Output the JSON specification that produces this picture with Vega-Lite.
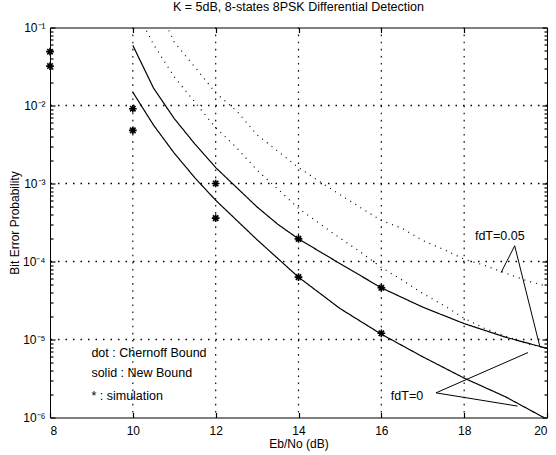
{
  "$schema": "https://vega.github.io/schema/vega-lite/v6.json",
  "width": 497,
  "height": 390,
  "autosize": {"type": "none"},
  "padding": {"left": 50, "top": 27.5, "right": 9, "bottom": 37.5},
  "background": "white",
  "config": {
    "view": {"stroke": "black", "strokeWidth": 1},
    "font": "Liberation Sans",
    "axis": {"labelColor": "black", "titleColor": "black", "tickColor": "black", "tickWidth": 1.2, "tickOpacity": 1, "domain": false, "grid": false, "labelFont": "Liberation Sans", "titleFont": "Liberation Sans"}
  },
  "title": {"text": "K = 5dB, 8-states 8PSK Differential Detection", "fontSize": 12.5, "fontWeight": "normal", "offset": 8, "anchor": "middle", "color": "black", "font": "Liberation Sans"},
  "datasets": {
    "curves": [
      {"series": "new005", "style": "solid", "x": 10, "y": 0.059},
      {"series": "new005", "style": "solid", "x": 10.5, "y": 0.0167},
      {"series": "new005", "style": "solid", "x": 11, "y": 0.0068},
      {"series": "new005", "style": "solid", "x": 11.5, "y": 0.0032},
      {"series": "new005", "style": "solid", "x": 12, "y": 0.0016},
      {"series": "new005", "style": "solid", "x": 13, "y": 0.0005},
      {"series": "new005", "style": "solid", "x": 13.5, "y": 0.0003},
      {"series": "new005", "style": "solid", "x": 14, "y": 0.000195},
      {"series": "new005", "style": "solid", "x": 15, "y": 0.000094},
      {"series": "new005", "style": "solid", "x": 16, "y": 0.000046},
      {"series": "new005", "style": "solid", "x": 17, "y": 0.000026},
      {"series": "new005", "style": "solid", "x": 18, "y": 0.000016},
      {"series": "new005", "style": "solid", "x": 19, "y": 0.0000107},
      {"series": "new005", "style": "solid", "x": 20, "y": 0.0000077},
      {"series": "new0", "style": "solid", "x": 10, "y": 0.0148},
      {"series": "new0", "style": "solid", "x": 10.5, "y": 0.0056},
      {"series": "new0", "style": "solid", "x": 11, "y": 0.00245},
      {"series": "new0", "style": "solid", "x": 11.5, "y": 0.00118},
      {"series": "new0", "style": "solid", "x": 12, "y": 0.00061},
      {"series": "new0", "style": "solid", "x": 13, "y": 0.00019},
      {"series": "new0", "style": "solid", "x": 14, "y": 0.000063},
      {"series": "new0", "style": "solid", "x": 15, "y": 0.000025},
      {"series": "new0", "style": "solid", "x": 16, "y": 0.0000117},
      {"series": "new0", "style": "solid", "x": 17, "y": 0.000006},
      {"series": "new0", "style": "solid", "x": 18, "y": 0.0000032},
      {"series": "new0", "style": "solid", "x": 19, "y": 0.00000184},
      {"series": "new0", "style": "solid", "x": 20, "y": 0.00000095},
      {"series": "ch0", "style": "dot", "x": 10, "y": 0.2},
      {"series": "ch0", "style": "dot", "x": 10.5, "y": 0.0605},
      {"series": "ch0", "style": "dot", "x": 11, "y": 0.0233},
      {"series": "ch0", "style": "dot", "x": 11.5, "y": 0.011},
      {"series": "ch0", "style": "dot", "x": 12, "y": 0.0052},
      {"series": "ch0", "style": "dot", "x": 12.5, "y": 0.0029},
      {"series": "ch0", "style": "dot", "x": 13, "y": 0.00148},
      {"series": "ch0", "style": "dot", "x": 13.5, "y": 0.00085},
      {"series": "ch0", "style": "dot", "x": 14, "y": 0.00048},
      {"series": "ch0", "style": "dot", "x": 14.5, "y": 0.00031},
      {"series": "ch0", "style": "dot", "x": 15, "y": 0.0002},
      {"series": "ch0", "style": "dot", "x": 15.5, "y": 0.000132},
      {"series": "ch0", "style": "dot", "x": 16, "y": 0.000084},
      {"series": "ch0", "style": "dot", "x": 16.5, "y": 0.000058},
      {"series": "ch0", "style": "dot", "x": 17, "y": 0.000039},
      {"series": "ch0", "style": "dot", "x": 17.5, "y": 0.0000275},
      {"series": "ch0", "style": "dot", "x": 18, "y": 0.0000187},
      {"series": "ch0", "style": "dot", "x": 18.5, "y": 0.0000138},
      {"series": "ch0", "style": "dot", "x": 19, "y": 0.0000111},
      {"series": "ch0", "style": "dot", "x": 19.5, "y": 0.0000089},
      {"series": "ch0", "style": "dot", "x": 20, "y": 0.0000077},
      {"series": "ch005", "style": "dot", "x": 10.5, "y": 0.24},
      {"series": "ch005", "style": "dot", "x": 11, "y": 0.065},
      {"series": "ch005", "style": "dot", "x": 11.5, "y": 0.031},
      {"series": "ch005", "style": "dot", "x": 12, "y": 0.0145},
      {"series": "ch005", "style": "dot", "x": 12.5, "y": 0.0086},
      {"series": "ch005", "style": "dot", "x": 13, "y": 0.0042},
      {"series": "ch005", "style": "dot", "x": 13.5, "y": 0.0026},
      {"series": "ch005", "style": "dot", "x": 14, "y": 0.0016},
      {"series": "ch005", "style": "dot", "x": 14.5, "y": 0.00107},
      {"series": "ch005", "style": "dot", "x": 15, "y": 0.00072},
      {"series": "ch005", "style": "dot", "x": 15.5, "y": 0.00049},
      {"series": "ch005", "style": "dot", "x": 16, "y": 0.000335},
      {"series": "ch005", "style": "dot", "x": 16.5, "y": 0.000267},
      {"series": "ch005", "style": "dot", "x": 17, "y": 0.000186},
      {"series": "ch005", "style": "dot", "x": 17.5, "y": 0.000143},
      {"series": "ch005", "style": "dot", "x": 18, "y": 0.000107},
      {"series": "ch005", "style": "dot", "x": 18.5, "y": 0.000089},
      {"series": "ch005", "style": "dot", "x": 19, "y": 0.000071},
      {"series": "ch005", "style": "dot", "x": 19.5, "y": 0.000057},
      {"series": "ch005", "style": "dot", "x": 20, "y": 0.000048}
    ],
    "stars": [
      {"x": 8, "y": 0.049}, {"x": 8, "y": 0.032},
      {"x": 10, "y": 0.0091}, {"x": 10, "y": 0.0048},
      {"x": 12, "y": 0.001}, {"x": 12, "y": 0.00036},
      {"x": 14, "y": 0.000195}, {"x": 14, "y": 0.000063},
      {"x": 16, "y": 0.000046}, {"x": 16, "y": 0.000012}
    ],
    "pointers": [
      {"group": "a", "ord": 1, "x": 18.89, "y": 0.000072},
      {"group": "a", "ord": 2, "x": 19.22, "y": 0.000159},
      {"group": "a", "ord": 3, "x": 19.83, "y": 0.000008},
      {"group": "b", "ord": 1, "x": 19.54, "y": 0.0000068},
      {"group": "b", "ord": 2, "x": 17.32, "y": 0.00000207},
      {"group": "b", "ord": 3, "x": 19.29, "y": 0.0000014}
    ],
    "notes": [
      {"x": 18.26, "y": 0.000214, "label": "fdT=0.05"},
      {"x": 16.23, "y": 0.00000187, "label": "fdT=0"},
      {"x": 9.0, "y": 0.0000067, "label": "dot : Chernoff Bound"},
      {"x": 9.0, "y": 0.0000037, "label": "solid : New Bound"},
      {"x": 9.0, "y": 0.0000019, "label": "* : simulation"}
    ],
    "gridx": [{"x": 10}, {"x": 12}, {"x": 14}, {"x": 16}, {"x": 18}],
    "gridy": [{"y": 0.00001}, {"y": 0.0001}, {"y": 0.001}, {"y": 0.01}]
  },
  "layer": [
    {
      "data": {"name": "gridx"},
      "mark": {"type": "rule", "strokeDash": [1.6, 5.5], "strokeWidth": 1.2, "color": "#111111", "opacity": 1},
      "encoding": {
        "x": {"field": "x", "type": "quantitative", "scale": {"domain": [8, 20], "nice": false, "zero": false}, "axis": null}
      }
    },
    {
      "data": {"name": "gridy"},
      "mark": {"type": "rule", "strokeDash": [1.5, 6], "strokeWidth": 1.3, "color": "black", "opacity": 1},
      "encoding": {
        "y": {"field": "y", "type": "quantitative", "scale": {"type": "log", "domain": [0.000001, 0.1], "nice": false},
          "axis": {"orient": "right", "offset": -3, "tickSize": 3, "labels": false, "title": null,
            "values": [0.000002, 0.000003, 0.000004, 0.000005, 0.000006, 0.000007, 0.000008, 0.000009,
                       0.00002, 0.00003, 0.00004, 0.00005, 0.00006, 0.00007, 0.00008, 0.00009,
                       0.0002, 0.0003, 0.0004, 0.0005, 0.0006, 0.0007, 0.0008, 0.0009,
                       0.002, 0.003, 0.004, 0.005, 0.006, 0.007, 0.008, 0.009,
                       0.02, 0.03, 0.04, 0.05, 0.06, 0.07, 0.08, 0.09]}}
      }
    },
    {
      "data": {"name": "curves"},
      "mark": {"type": "line", "clip": true, "strokeWidth": 1.2, "color": "black"},
      "encoding": {
        "x": {"field": "x", "type": "quantitative",
          "axis": {"orient": "bottom", "values": [8, 10, 12, 14, 16, 18, 20], "ticks": false, "tickSize": 0, "labelFontSize": 12, "labelPadding": 8, "title": "Eb/No (dB)", "titleFontSize": 12, "titleFontWeight": "normal", "titlePadding": 2}},
        "y": {"field": "y", "type": "quantitative",
          "axis": {"orient": "left",
            "values": [0.000001, 0.00001, 0.0001, 0.001, 0.01, 0.1],
            "labelExpr": "'10' + ['⁻¹','⁻²','⁻³','⁻⁴','⁻⁵','⁻⁶'][-round(log(datum.value)/LN10)-1]",
            "ticks": false, "tickSize": 0,
            "labelFontSize": 12, "labelPadding": 5, "labelOverlap": false,
            "title": "Bit Error Probability", "titleFontSize": 12, "titleFontWeight": "normal", "titleX": -32, "titleBaseline": "alphabetic"}},
        "detail": {"field": "series"},
        "order": {"field": "x", "type": "quantitative"},
        "strokeDash": {"field": "style", "type": "nominal", "scale": {"domain": ["solid", "dot"], "range": [[1, 0], [1, 5]]}, "legend": null}
      }
    },
    {
      "data": {"name": "stars"},
      "mark": {"type": "point", "shape": "M-1,0L1,0M0,-1L0,1M-0.7,-0.7L0.7,0.7M-0.7,0.7L0.7,-0.7", "filled": false, "size": 60, "strokeWidth": 1.6, "color": "black", "opacity": 1},
      "encoding": {
        "x": {"field": "x", "type": "quantitative",
          "axis": {"orient": "top", "values": [8, 10, 12, 14, 16, 18, 20], "labels": false, "offset": -5, "tickSize": 5, "title": null}},
        "y": {"field": "y", "type": "quantitative",
          "axis": {"orient": "right", "values": [0.000001, 0.00001, 0.0001, 0.001, 0.01, 0.1], "labels": false, "offset": -5, "tickSize": 5, "title": null}}
      }
    },
    {
      "data": {"name": "pointers"},
      "mark": {"type": "line", "strokeWidth": 1, "color": "black"},
      "encoding": {
        "x": {"field": "x", "type": "quantitative",
          "axis": {"orient": "bottom", "values": [8, 10, 12, 14, 16, 18, 20], "labels": false, "offset": -5, "tickSize": 5, "title": null}},
        "y": {"field": "y", "type": "quantitative",
          "axis": {"orient": "left", "values": [0.000001, 0.00001, 0.0001, 0.001, 0.01, 0.1], "labels": false, "offset": -5, "tickSize": 5, "title": null}},
        "detail": {"field": "group"},
        "order": {"field": "ord", "type": "quantitative"}
      }
    },
    {
      "data": {"name": "notes"},
      "mark": {"type": "text", "align": "left", "baseline": "middle", "fontSize": 12.5, "color": "black", "font": "Liberation Sans"},
      "encoding": {
        "x": {"field": "x", "type": "quantitative", "axis": null},
        "y": {"field": "y", "type": "quantitative",
          "axis": {"orient": "left", "offset": -3, "tickSize": 3, "labels": false, "title": null,
            "values": [0.000002, 0.000003, 0.000004, 0.000005, 0.000006, 0.000007, 0.000008, 0.000009,
                       0.00002, 0.00003, 0.00004, 0.00005, 0.00006, 0.00007, 0.00008, 0.00009,
                       0.0002, 0.0003, 0.0004, 0.0005, 0.0006, 0.0007, 0.0008, 0.0009,
                       0.002, 0.003, 0.004, 0.005, 0.006, 0.007, 0.008, 0.009,
                       0.02, 0.03, 0.04, 0.05, 0.06, 0.07, 0.08, 0.09]}},
        "text": {"field": "label"}
      }
    }
  ],
  "resolve": {"axis": {"x": "independent", "y": "independent"}}
}
